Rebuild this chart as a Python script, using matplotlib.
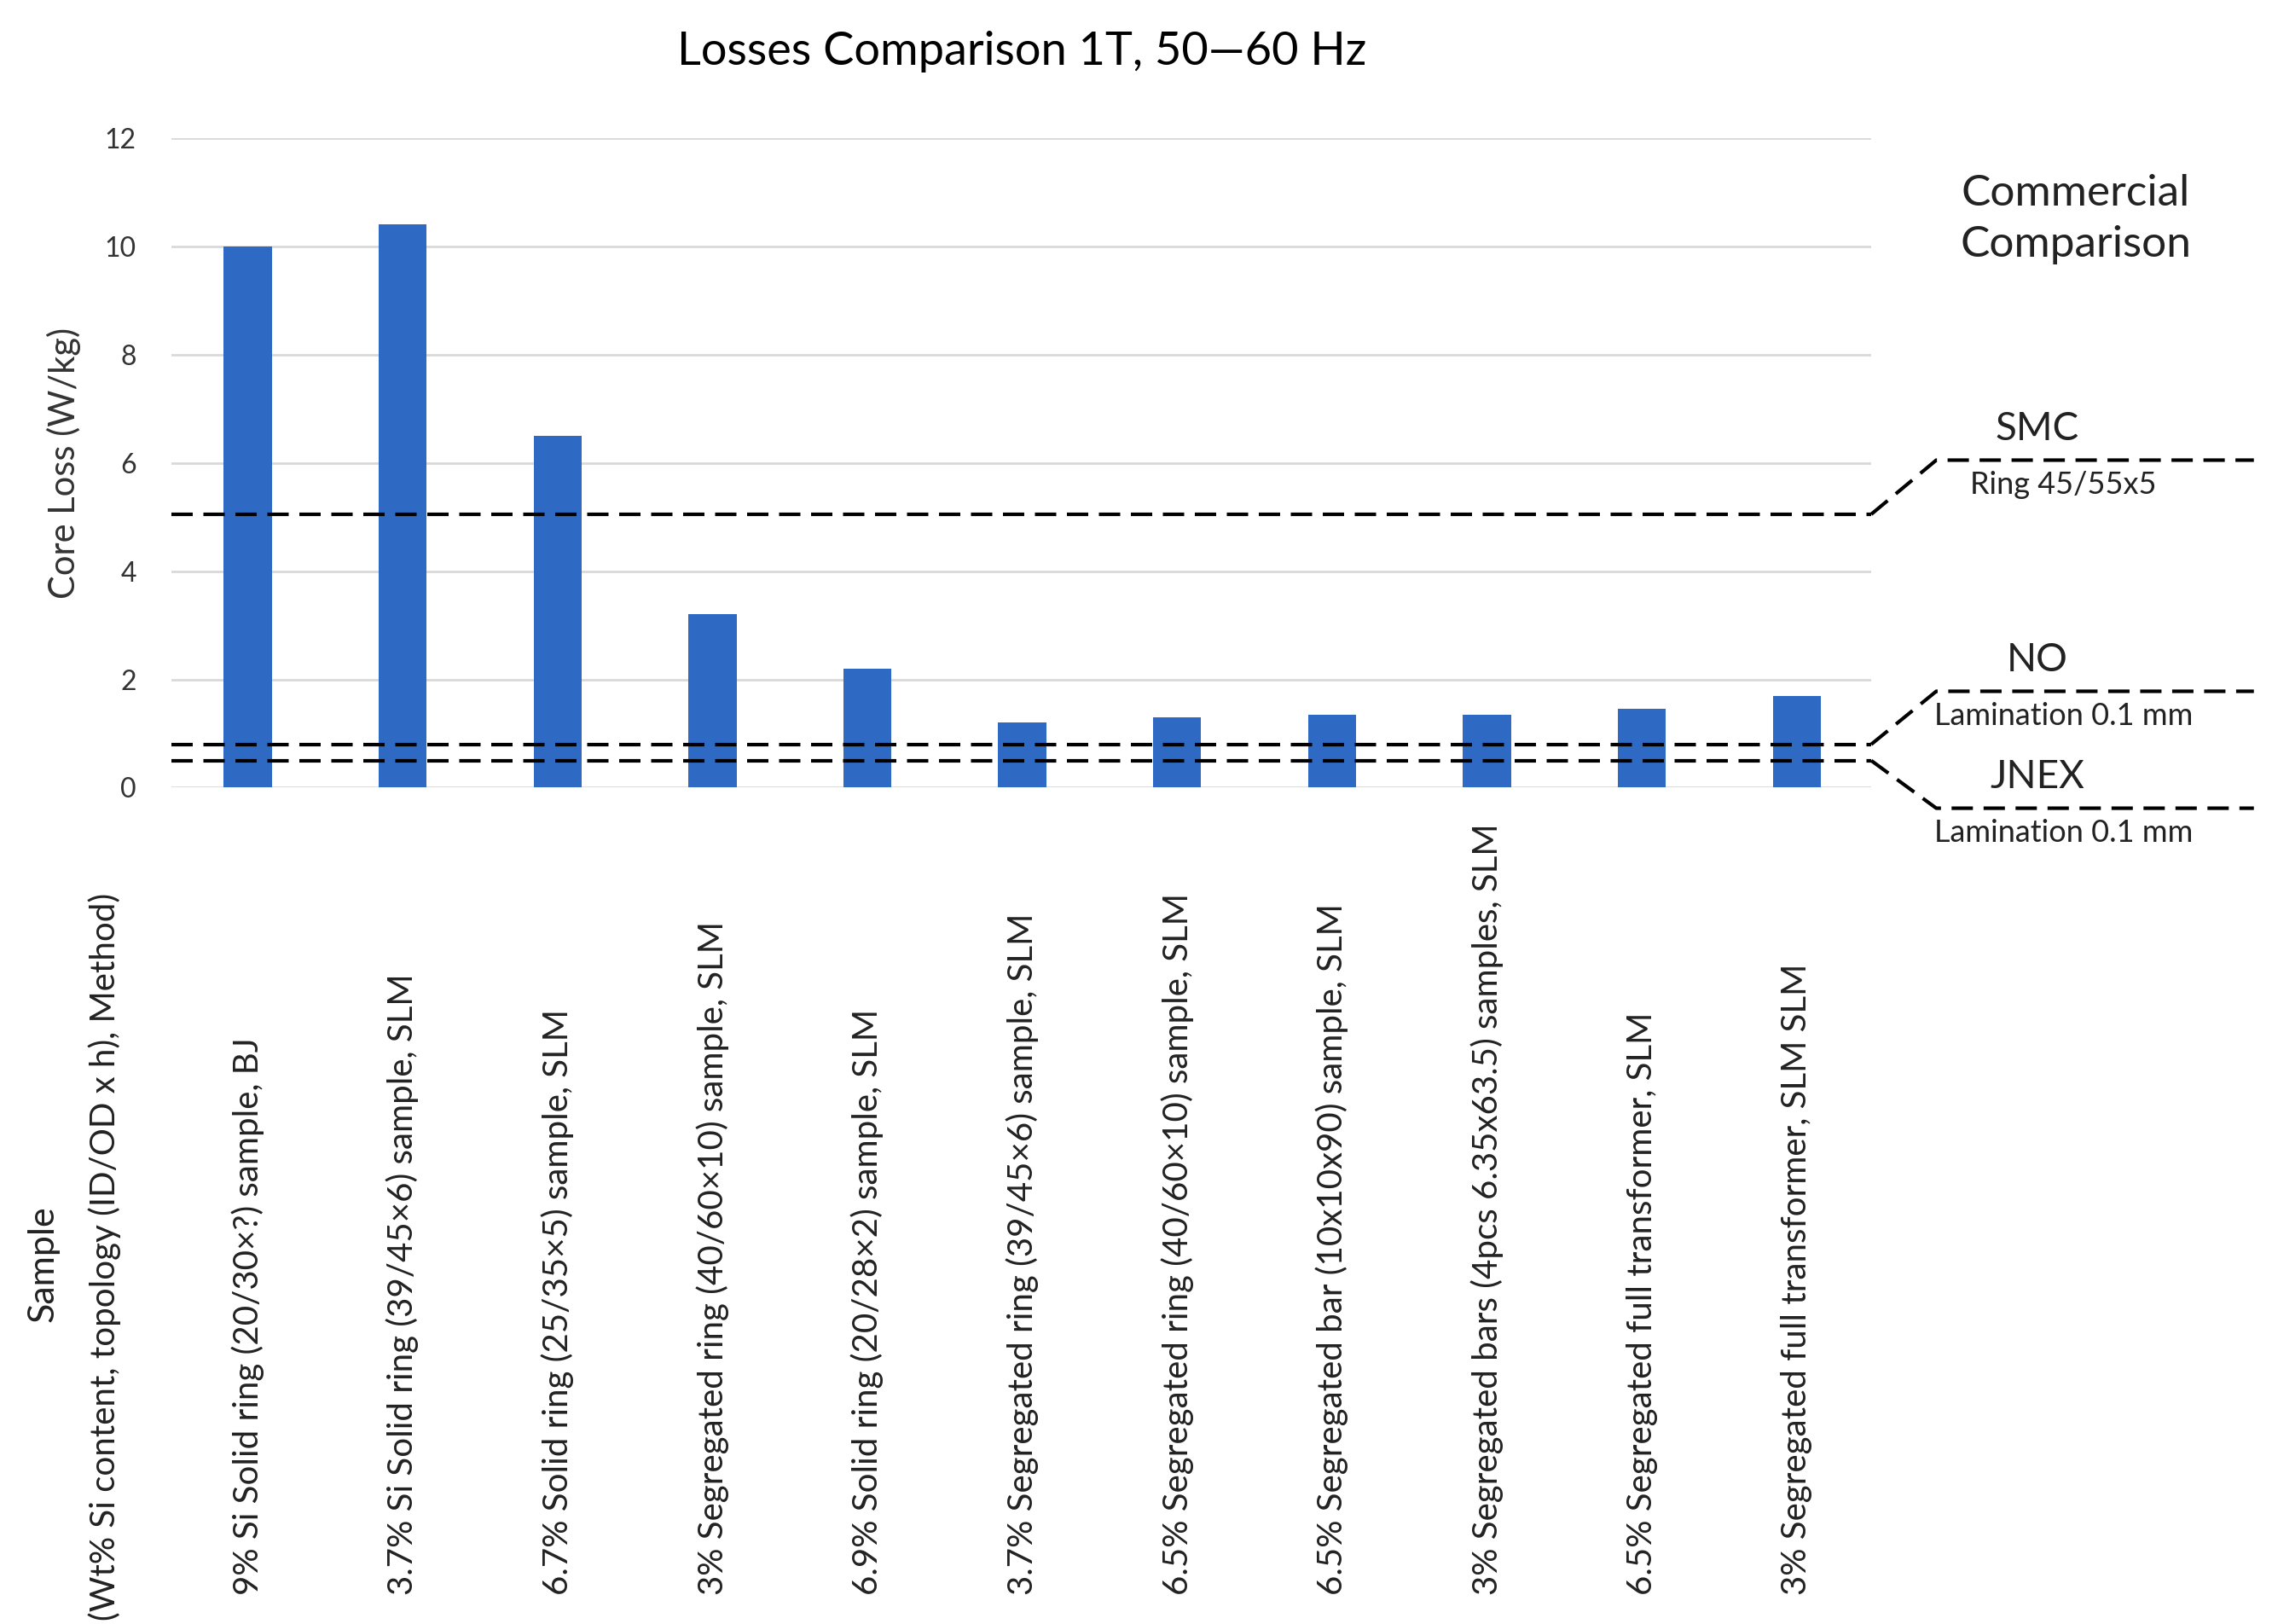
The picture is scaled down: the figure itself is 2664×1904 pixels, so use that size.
import matplotlib
matplotlib.use("Agg")
import matplotlib.pyplot as plt
from matplotlib.transforms import blended_transform_factory

plt.rcParams['font.family'] = ['Lato', 'DejaVu Sans']

categories = [
    "9% Si Solid ring (20/30×?) sample, BJ",
    "3.7% Si Solid ring (39/45×6) sample, SLM",
    "6.7% Solid ring (25/35×5) sample, SLM",
    "3% Segregated ring (40/60×10) sample, SLM",
    "6.9% Solid ring (20/28×2) sample, SLM",
    "3.7% Segregated ring (39/45×6) sample, SLM",
    "6.5% Segregated ring (40/60×10) sample, SLM",
    "6.5% Segregated bar (10x10x90) sample, SLM",
    "3% Segregated bars (4pcs 6.35x63.5) samples, SLM",
    "6.5% Segregated full transformer, SLM",
    "3% Segregated full transformer, SLM SLM",
]
core_loss = [10.0, 10.4, 6.5, 3.2, 2.2, 1.2, 1.3, 1.35, 1.35, 1.45, 1.7]
yticks = [0, 2, 4, 6, 8, 10, 12]
ref_names = ["SMC", "NO", "JNEX"]
ref_subs = ["Ring 45/55x5", "Lamination 0.1 mm", "Lamination 0.1 mm"]
ref_values = [5.05, 0.8, 0.5]
ref_label_levels = [6.05, 1.78, -0.38]

fig = plt.figure(figsize=(26.64, 19.04), dpi=100)
ax = fig.add_axes([0.0756, 0.515, 0.748, 0.40])
x = list(range(len(categories)))
ax.bar(x, core_loss, width=0.31, color='#2E6AC4', zorder=2)
ax.set_xlim(-0.49, 10.48)
ax.set_ylim(0, 12)
ax.set_yticks(yticks)
ax.tick_params(axis='y', labelsize=23, length=0, pad=30, colors='#333333')
ax.set_xticks([])
ax.grid(axis='y', color='#D9D9D9', linewidth=2, zorder=0)
for s in ax.spines.values():
    s.set_visible(False)
ax.set_ylabel("Core Loss (W/kg)", fontsize=30, color='#333333', labelpad=20)
ax.set_title("Losses Comparison 1T, 50—60 Hz", fontsize=39, pad=62)

# category labels
tr = blended_transform_factory(ax.transData, fig.transFigure)
for xi, lab in zip(x, categories):
    ax.text(xi, 0.018, lab, transform=tr, rotation=90, ha='center', va='bottom',
            fontsize=29, color='#222222')
fig.text(0.019, 0.222, "Sample", rotation=90, ha='center', va='center', fontsize=31, color='#222222')
fig.text(0.046, 0.226, "(Wt% Si content, topology (ID/OD x h), Method)", rotation=90,
         ha='center', va='center', fontsize=29, color='#222222')

# reference lines
for name, sub, v, lv in zip(ref_names, ref_subs, ref_values, ref_label_levels):
    ax.plot([-0.49, 10.48], [v, v], linestyle=(0, (6, 3)), color='black', lw=3, zorder=3)
    ax.plot([10.48, 10.9, 12.95], [v, lv, lv], linestyle=(0, (6, 3)), color='black', lw=3,
            clip_on=False, zorder=3)
    ax.text(11.55, lv + 0.25, name, fontsize=33, ha='center', va='bottom', color='#222222')
    ax.text(11.72, lv - 0.2, sub, fontsize=26, ha='center', va='top', color='#222222')
ax.text(11.8, 10.5, "Commercial\nComparison", fontsize=37, ha='center', va='center',
        color='#222222', linespacing=1.4)

fig.savefig("out.png", dpi=100)
